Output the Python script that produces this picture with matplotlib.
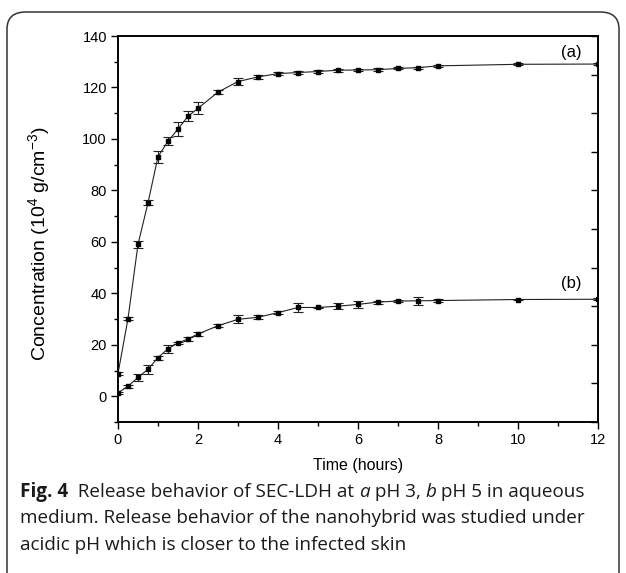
import numpy as np
import matplotlib.pyplot as plt
from matplotlib.patches import FancyBboxPatch
from matplotlib.ticker import MultipleLocator

# data
t_a = [0, 0.25, 0.5, 0.75, 1.0, 1.25, 1.5, 1.75, 2.0, 2.5, 3.0, 3.5, 4.0, 4.5,
       5.0, 5.5, 6.0, 6.5, 7.0, 7.5, 8.0, 10.0, 12.0]
conc_a = [8.8, 30.2, 59.0, 75.2, 93.1, 99.1, 103.9, 108.8, 111.9, 118.2, 122.3,
          124.1, 125.4, 125.8, 126.2, 126.7, 126.8, 126.9, 127.4, 127.7, 128.4,
          129.0, 129.1]
err_a = [0.5, 0.6, 1.2, 1.0, 2.3, 1.5, 2.7, 1.9, 2.3, 0.8, 1.2, 0.7, 0.5, 0.5,
         0.5, 0.5, 0.4, 0.5, 0.4, 0.4, 0.5, 0.4, 0.3]

t_b = [0, 0.25, 0.5, 0.75, 1.0, 1.25, 1.5, 1.75, 2.0, 2.5, 3.0, 3.5, 4.0, 4.5,
       5.0, 5.5, 6.0, 6.5, 7.0, 7.5, 8.0, 10.0, 12.0]
conc_b = [1.3, 3.9, 7.3, 10.5, 15.0, 18.5, 20.7, 22.3, 24.2, 27.4, 29.9, 30.7,
          32.5, 34.5, 34.5, 35.0, 35.7, 36.6, 37.0, 37.1, 37.2, 37.6, 37.7]
err_b = [0.4, 0.5, 1.2, 1.8, 0.8, 1.6, 0.5, 0.8, 0.6, 0.5, 1.5, 0.8, 0.5, 1.6,
         0.3, 1.2, 1.5, 0.6, 0.5, 1.5, 0.5, 0.3, 0.3]

W, H = 626, 573
fig = plt.figure(figsize=(W / 100, H / 100), dpi=100)
plt.rcParams['font.family'] = ['Liberation Sans', 'DejaVu Sans']
plt.rcParams['mathtext.fontset'] = 'custom'
plt.rcParams['mathtext.rm'] = 'Liberation Sans'

# rounded frame around figure + caption
frame = FancyBboxPatch((7 / W, -0.05), (612 / W), (H - 12) / H + 0.05,
                       boxstyle='round,pad=0,rounding_size=0.03',
                       transform=fig.transFigure, fill=False,
                       edgecolor='#333333', linewidth=1.1)
fig.patches.append(frame)

ax = fig.add_axes([118 / W, 151 / H, 480 / W, 386 / H])

for t, c, e in [(t_a, conc_a, err_a), (t_b, conc_b, err_b)]:
    ax.errorbar(t, c, yerr=e, fmt='-s', color='#222222', mfc='black', mec='black',
                ms=3.5, lw=0.8, elinewidth=0.8, capsize=3.5, capthick=0.8)

ax.set_xlim(0, 12)
ax.set_ylim(-10, 140)
ax.xaxis.set_major_locator(MultipleLocator(2))
ax.xaxis.set_minor_locator(MultipleLocator(1))
ax.yaxis.set_major_locator(MultipleLocator(20))
ax.yaxis.set_minor_locator(MultipleLocator(10))
ax.set_yticks(np.arange(0, 141, 20))
ax.tick_params(which='major', direction='out', length=5, width=1.0,
               labelsize=10.5, top=False, right=False, pad=3)
ax.tick_params(which='minor', direction='out', length=3, width=1.0,
               top=False, right=False)
for s in ax.spines.values():
    s.set_linewidth(1.2)

# right spine ticks (Origin style, spacing 15)
ax2 = ax.twinx()
ax2.set_ylim(-10, 140)
ax2.set_yticks(np.arange(-10, 141, 15))
ax2.tick_params(direction='in', length=5, width=1.0, labelright=False)
for s in ax2.spines.values():
    s.set_linewidth(1.2)

ax.set_xlabel('Time (hours)', fontsize=11.5, labelpad=8)
ax.set_ylabel('Concentration (10$^{\\mathrm{4}}$ g/cm$^{\\mathrm{-3}}$)', fontsize=14)
ax.yaxis.set_label_coords(-0.135, 0.462)

ax.text(11.33, 133.4, '(a)', fontsize=12, ha='center', va='center')
ax.text(11.33, 44, '(b)', fontsize=12, ha='center', va='center')

# caption with mixed bold / italic pieces
cap_font = ['Open Sans', 'DejaVu Sans']
cap_size = 13.6
fig.canvas.draw()
renderer = fig.canvas.get_renderer()


def put_line(pieces, x0, y0):
    x = x0
    for txt, weight, style in pieces:
        t = fig.text(x / W, 1 - y0 / H, txt, fontsize=cap_size, family=cap_font,
                     weight=weight, style=style, va='baseline', ha='left',
                     color='#1a1a1a')
        bb = t.get_window_extent(renderer)
        x += bb.width


put_line([('Fig. 4', 'bold', 'normal'),
          ('  Release behavior of SEC-LDH at ', 'normal', 'normal'),
          ('a', 'normal', 'italic'),
          (' pH 3, ', 'normal', 'normal'),
          ('b', 'normal', 'italic'),
          (' pH 5 in aqueous', 'normal', 'normal')], 20, 497)
put_line([('medium. Release behavior of the nanohybrid was studied under',
           'normal', 'normal')], 20, 523)
put_line([('acidic pH which is closer to the infected skin', 'normal', 'normal')],
         20, 550)

fig.savefig('out.png', dpi=100)
